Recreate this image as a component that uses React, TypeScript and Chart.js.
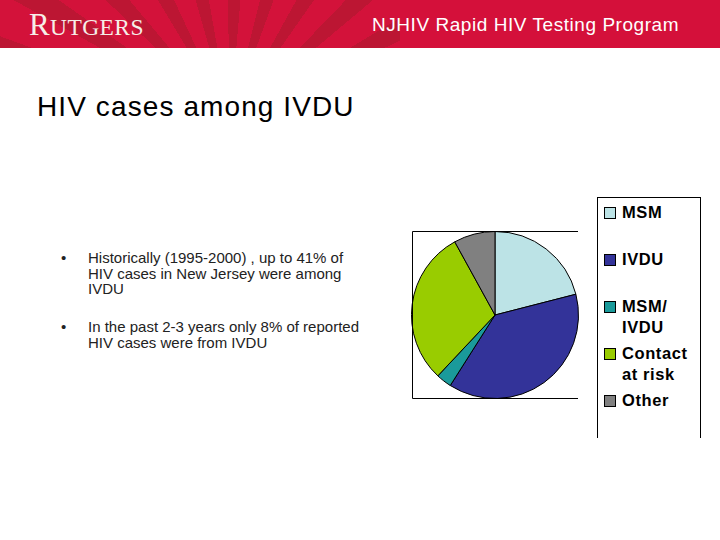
import React, { useEffect, useRef } from "react";
import { Chart, registerables } from "chart.js";

Chart.register(...registerables);

const categories = ["MSM", "IVDU", "MSM/ IVDU", "Contact at risk", "Other"];
const legendLines = [["MSM"], ["IVDU"], ["MSM/", "IVDU"], ["Contact", "at risk"], ["Other"]];
const values = [21, 38, 3, 30, 8];
const colors = ["#BCE3E6", "#333399", "#1A9A9A", "#99CC00", "#808080"];
const legendTops = [202, 249, 296, 343, 390];

const titleText = "HIV cases among IVDU";
const headerText = "NJHIV Rapid HIV Testing Program";
const bullets = [
  ["Historically (1995-2000) , up to 41% of", "HIV cases in New Jersey were among", "IVDU"],
  ["In the past 2-3 years only 8% of reported", "HIV cases were from IVDU"],
];

const frame = {
  id: "frame",
  afterDraw(chart: any) {
    const { ctx, chartArea } = chart;
    ctx.save();
    ctx.strokeStyle = "#000";
    ctx.lineWidth = 1;
    const l = Math.round(chartArea.left) + 1.5;
    const t = Math.round(chartArea.top) + 0.5;
    const b = Math.round(chartArea.bottom) - 0.5;
    const r = Math.round(chartArea.right) - 1;
    ctx.beginPath();
    ctx.moveTo(r, t);
    ctx.lineTo(l, t);
    ctx.lineTo(l, b);
    ctx.lineTo(r, b);
    ctx.stroke();
    ctx.restore();
  },
};

export default function App() {
  const ref = useRef<HTMLCanvasElement>(null);
  useEffect(() => {
    const chart = new Chart(ref.current!, {
      type: "pie",
      data: {
        labels: categories,
        datasets: [
          {
            data: values,
            backgroundColor: colors,
            borderColor: "#000",
            borderWidth: 1,
          },
        ],
      },
      options: {
        animation: false,
        responsive: false,
        maintainAspectRatio: false,
        layout: { padding: 2 },
        plugins: { legend: { display: false }, tooltip: { enabled: false } },
      },
      plugins: [frame],
    });
    return () => chart.destroy();
  }, []);

  return (
    <div
      style={{
        position: "absolute",
        left: 0,
        top: 0,
        width: 720,
        height: 540,
        background: "#fff",
        overflow: "hidden",
        fontFamily: "Arial, 'Liberation Sans', sans-serif",
      }}
    >
      <div
        style={{
          position: "absolute",
          left: 0,
          top: 0,
          width: 720,
          height: 48,
          background:
            "repeating-conic-gradient(from 200deg at 230px 120px, #D3123A 0deg 9deg, #BC1633 9deg 15deg), #D3123A",
        }}
      >
        <div
          style={{
            position: "absolute",
            left: 400,
            top: 0,
            width: 320,
            height: 48,
            background: "#D4103A",
          }}
        />
        <div
          style={{
            position: "absolute",
            left: 29,
            top: 7,
            color: "#F6EEE8",
            fontFamily: "'Liberation Serif', 'DejaVu Serif', serif",
            fontSize: 23.5,
            letterSpacing: 0.4,
            whiteSpace: "nowrap",
          }}
        >
          <span style={{ fontSize: 31 }}>R</span>UTGERS
        </div>
        <div
          style={{
            position: "absolute",
            left: 372,
            top: 14,
            color: "#fff",
            fontSize: 19,
            letterSpacing: 0.55,
            whiteSpace: "nowrap",
          }}
        >
          {headerText}
        </div>
      </div>

      <div
        style={{
          position: "absolute",
          left: 37,
          top: 91,
          fontSize: 28,
          letterSpacing: 1.1,
          color: "#000",
          whiteSpace: "nowrap",
        }}
      >
        {titleText}
      </div>

      {bullets.map((lines, i) => (
        <div
          key={i}
          style={{
            position: "absolute",
            left: 0,
            top: i === 0 ? 250 : 319,
            fontSize: 15,
            lineHeight: "15.5px",
            color: "#222",
          }}
        >
          <div style={{ position: "absolute", left: 61, top: 0 }}>•</div>
          <div
            style={{
              position: "absolute",
              left: 88,
              top: 0,
              whiteSpace: "nowrap",
            }}
          >
            {lines.map((s, j) => (
              <div key={j}>{s}</div>
            ))}
          </div>
        </div>
      ))}

      <canvas
        ref={ref}
        width={172}
        height={172}
        style={{ position: "absolute", left: 409, top: 229, width: 172, height: 172 }}
      />

      <div
        style={{
          position: "absolute",
          left: 597,
          top: 197,
          width: 102,
          height: 240,
          borderLeft: "1px solid #000",
          borderTop: "1px solid #000",
          borderRight: "1px solid #000",
          background: "#fff",
        }}
      />
      {legendLines.map((lines, i) => (
        <div key={i} style={{ position: "absolute", left: 604, top: legendTops[i] }}>
          <div
            style={{
              position: "absolute",
              left: 0,
              top: 5,
              width: 10,
              height: 10,
              background: colors[i],
              border: "1px solid #000",
            }}
          />
          <div
            style={{
              position: "absolute",
              left: 18,
              top: 0,
              fontSize: 16.5,
              fontWeight: "bold",
              letterSpacing: 0.6,
              lineHeight: "21px",
              whiteSpace: "nowrap",
              color: "#000",
            }}
          >
            {lines.map((s, j) => (
              <div key={j}>{s}</div>
            ))}
          </div>
        </div>
      ))}
    </div>
  );
}
